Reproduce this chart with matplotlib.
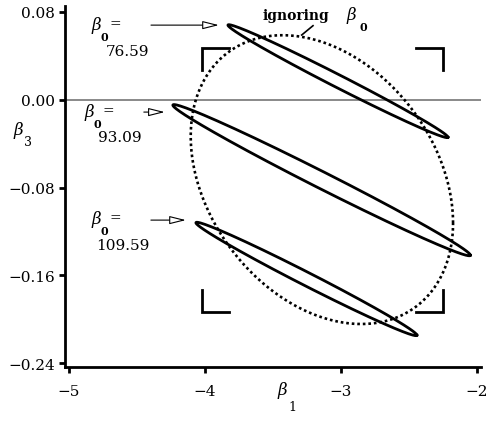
import numpy as np
import matplotlib
matplotlib.use('Agg')
import matplotlib.pyplot as plt
from matplotlib.text import OffsetFrom
from matplotlib.lines import Line2D

plt.rcParams['font.family'] = 'DejaVu Serif'
plt.rcParams['mathtext.fontset'] = 'dejavuserif'

W, H = 486, 431

# confidence regions for (beta1, beta3) with beta0 held fixed
b0_values = ['76.59', '93.09', '109.59']
b1_centre = [-3.022, -3.142, -3.254]
b3_centre = [0.0168, -0.0733, -0.1632]
b1_sd = [0.809, 1.094, 0.8125]
b3_sd = [0.0514, 0.0688, 0.0516]
corr = [-0.9922, -0.9924, -0.9913]

# region ignoring beta0
marg_centre = (-3.140, -0.0728)
marg_sd = (0.9645, 0.1314)
marg_corr = -0.30

# corners of the interval box
box_b1 = (-4.022, -2.250)
box_b3 = (-0.1934, 0.0469)

xticks = [-5, -4, -3, -2]
yticks = [0.08, 0.0, -0.08, -0.16, -0.24]


def ellipse(cx, cy, s1, s3, r, n=500):
    t = np.linspace(0, 2 * np.pi, n)
    x = cx + s1 * np.cos(t)
    y = cy + s3 * (r * np.cos(t) + np.sqrt(1 - r * r) * np.sin(t))
    return x, y


def put(px, py, s, **kw):
    # text placed by pixel position in the figure
    fig.text(px / W, 1 - py / H, s, ha='center', va='center', **kw)


fig = plt.figure(figsize=(W / 100, H / 100), dpi=100)
ax = fig.add_axes([65 / W, 62.7 / H, 416 / W, 361.3 / H])
ax.set_xlim(-5.029, -1.97)
ax.set_ylim(-0.2436, 0.0852)

for side in ['top', 'right']:
    ax.spines[side].set_visible(False)
for side in ['left', 'bottom']:
    ax.spines[side].set_linewidth(2)

ax.set_xticks(xticks)
ax.set_xticklabels([str(v).replace('-', '\u2212') for v in xticks])
ax.set_yticks(yticks)
ax.set_yticklabels([f'{v:.2f}'.replace('-', '\u2212') for v in yticks])
ax.tick_params(direction='out', length=4, width=2, labelsize=11)
ax.tick_params(axis='x', pad=8)
ax.tick_params(axis='y', pad=3)

ax.axhline(0, color='#808080', lw=1.3, zorder=1)

# dotted region ignoring beta0
mx, my = ellipse(marg_centre[0], marg_centre[1], marg_sd[0], marg_sd[1], marg_corr)
ax.plot(mx, my, color='k', lw=1.9, ls=(0, (1, 1.1)), zorder=2)

# conditional regions
for i in range(len(b0_values)):
    ex, ey = ellipse(b1_centre[i], b3_centre[i], b1_sd[i], b3_sd[i], corr[i])
    ax.plot(ex, ey, color='k', lw=2, zorder=3)

# corner brackets
arm_x, arm_y = 0.2, 0.02
for bx, sx in [(box_b1[0], 1), (box_b1[1], -1)]:
    for by, sy in [(box_b3[0], 1), (box_b3[1], -1)]:
        ax.plot([bx + sx * arm_x, bx, bx], [by, by, by + sy * arm_y],
                color='k', lw=2, solid_joinstyle='miter', zorder=3)

# arrows pointing at the left tip of each conditional region
arrow_offsets = [((-55.4, 0), (-6.5, 0)),
                 ((-20.9, -5.0), (-5.8, -5.0)),
                 ((-32.4, 1.9), (-7.2, 1.9))]
for i in range(len(b0_values)):
    tip = (b1_centre[i] - b1_sd[i], b3_centre[i] - corr[i] * b3_sd[i])
    ref = OffsetFrom(ax.transData, tip, unit='points')
    tail, head = arrow_offsets[i]
    ax.annotate('', xy=head, xycoords=ref, xytext=tail, textcoords=ref,
                arrowprops=dict(arrowstyle='-|>,head_length=1.0,head_width=0.25',
                                mutation_scale=10, fc='white', ec='k', lw=0.8,
                                shrinkA=0, shrinkB=0))

# beta0 labels
label_pos = [(97, 25.5, 127.5, 52.5),
             (90, 112.5, 120, 138.5),
             (97, 220, 122.5, 246.5)]
for (bx, by, nx, ny), val in zip(label_pos, b0_values):
    put(bx, by, r'$\beta$', fontsize=12)
    put(bx + 7, by + 12, '0', fontsize=8, fontweight='bold')
    put(bx + 18, by - 1.5, '=', fontsize=10)
    put(nx, ny, val, fontsize=11)

# ignoring beta0 label
fig.text(262.7 / W, 1 - 20 / H, 'ignoring', fontsize=10, fontweight='bold',
         ha='left', va='baseline')
put(352, 15, r'$\beta$', fontsize=12)
put(363, 27.5, '0', fontsize=8, fontweight='bold')
fig.add_artist(Line2D([313 / W, 301.7 / W], [1 - 26.7 / H, 1 - 36 / H],
                      color='k', lw=1.2))

# axis labels
put(283, 391, r'$\beta$', fontsize=12)
put(292, 408, '1', fontsize=9)
put(19, 131, r'$\beta$', fontsize=12)
put(28, 142, '3', fontsize=9)

fig.savefig('out.png', dpi=100)
